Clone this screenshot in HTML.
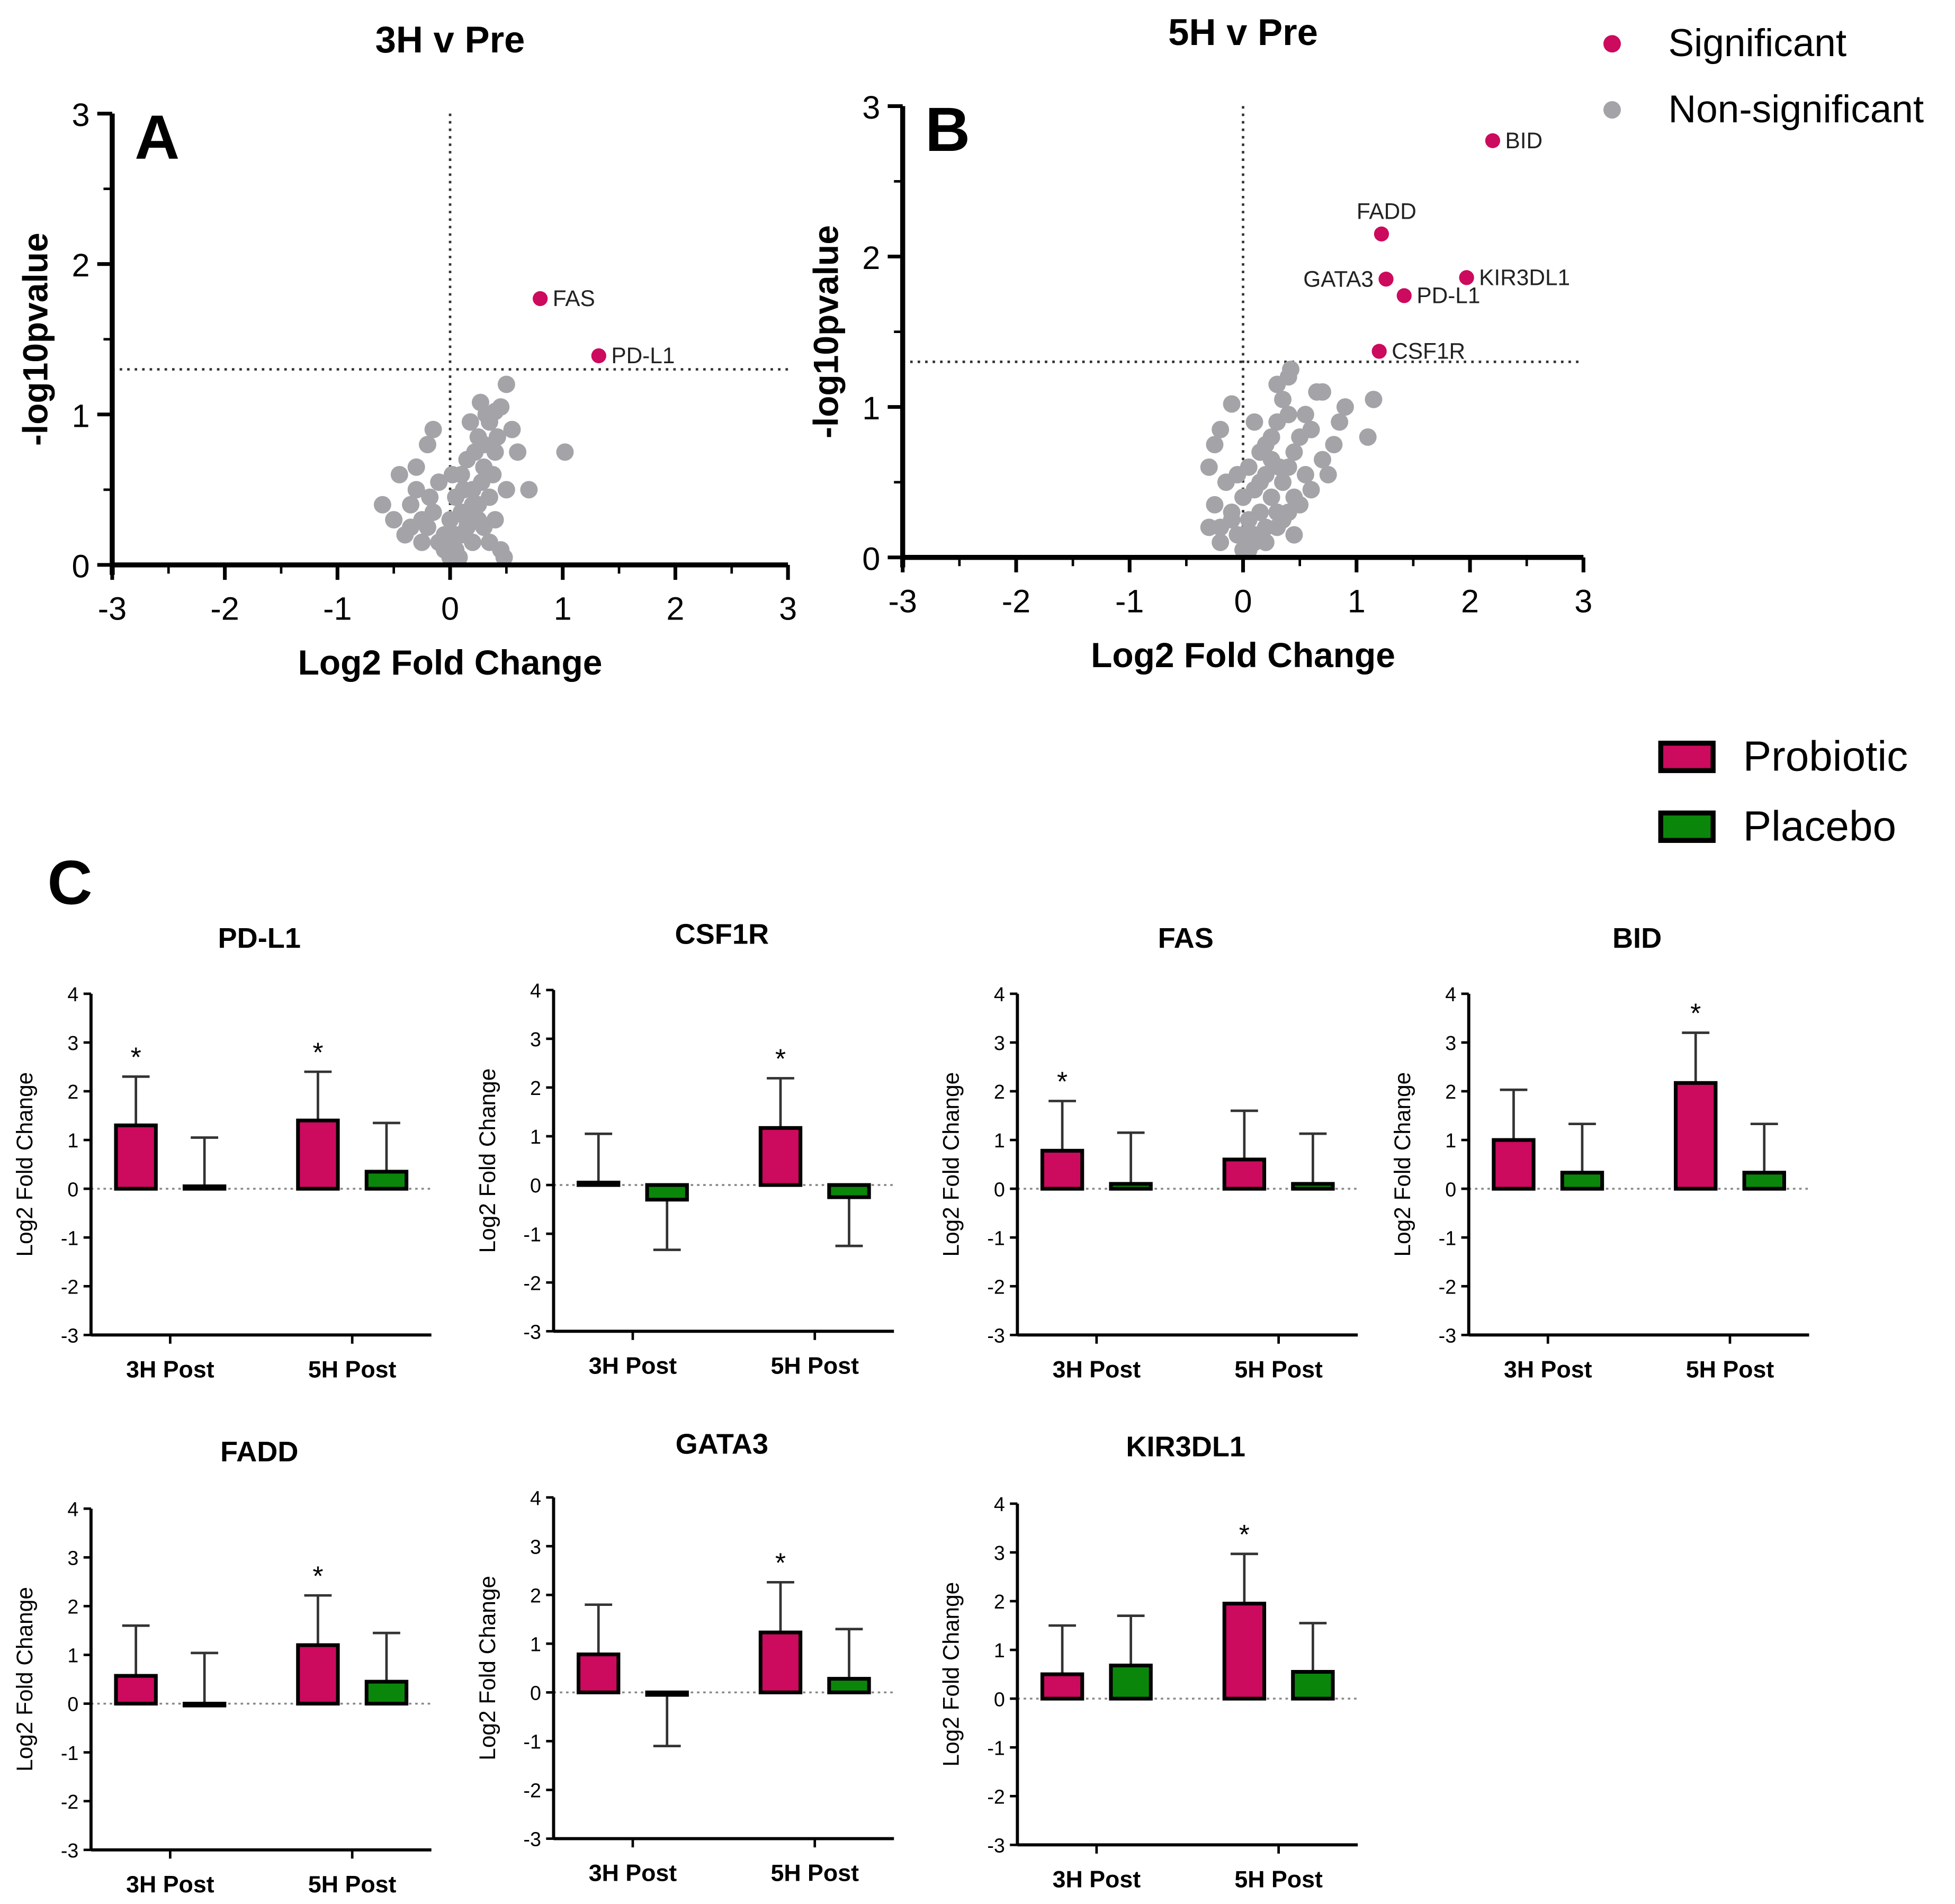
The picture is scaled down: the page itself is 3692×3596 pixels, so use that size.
<!DOCTYPE html>
<html><head><meta charset="utf-8"><style>
html,body{margin:0;padding:0;background:#fff}
svg{display:block}
text{font-family:"Liberation Sans",Arial,sans-serif}
</style></head><body>
<svg id="fig" xmlns="http://www.w3.org/2000/svg" width="3692" height="3596" viewBox="0 0 1568 1527">
<rect width="1568" height="1527" fill="#fff"/>
<g id="root"></g>
</svg>
<script>
// ---- Volcano data ----
const sigA_names=["FAS","PD-L1"];
const sigA_x=[0.8,1.32];
const sigA_y=[1.77,1.39];
const sigB_names=["BID","FADD","GATA3","KIR3DL1","PD-L1","CSF1R"];
const sigB_x=[2.2,1.22,1.26,1.97,1.42,1.2];
const sigB_y=[2.77,2.15,1.85,1.86,1.74,1.37];
const grayA_x=[-0.6,-0.5,-0.45,-0.4,-0.35,-0.3,-0.25,-0.2,-0.2,-0.15,-0.1,-0.1,-0.05,0,0,0.05,0.05,0.1,0.1,0.15,0.15,0.2,0.2,0.25,0.25,0.3,0.3,0.35,0.35,0.4,0.4,0.45,0.45,0.5,0.5,0.55,0.6,0.7,1.02,-0.3,-0.15,0.0,0.1,0.2,0.28,0.38,0.15,0.25,0.32,0.42,-0.05,0.05,-0.25,-0.35,0.12,0.22,0.3,0.18,0.08,0.48,0.35,0.27,0.4,-0.18,0.02];
const grayA_y=[0.4,0.3,0.6,0.2,0.4,0.5,0.3,0.25,0.8,0.35,0.15,0.55,0.2,0.05,0.3,0.1,0.45,0.2,0.6,0.3,0.7,0.15,0.5,0.4,0.85,0.25,0.65,0.45,0.95,0.3,0.75,0.1,1.05,0.5,1.2,0.9,0.75,0.5,0.75,0.65,0.9,0.15,0.35,0.4,0.55,0.6,0.25,0.3,1.0,0.85,0.1,0.2,0.15,0.25,0.5,0.75,0.8,0.95,0.05,0.05,0.15,1.08,1.02,0.45,0.6];
const grayB_x=[-0.3,-0.25,-0.2,-0.2,-0.15,-0.1,-0.1,-0.05,0,0,0.05,0.05,0.1,0.1,0.15,0.15,0.2,0.2,0.25,0.25,0.3,0.3,0.35,0.35,0.4,0.4,0.45,0.45,0.5,0.55,0.6,0.65,0.7,0.8,0.85,0.9,1.1,1.15,-0.3,-0.2,-0.1,0,0.1,0.2,0.3,0.4,0.5,0.6,0.2,0.3,0.4,0.05,0.15,0.25,-0.05,0.35,0.45,0.55,0.7,0.75,-0.25,0.1,0.32,0.42];
const grayB_y=[0.6,0.35,0.2,0.85,0.5,0.3,1.02,0.15,0.05,0.4,0.25,0.6,0.1,0.45,0.3,0.7,0.2,0.55,0.4,0.8,0.3,0.9,0.5,1.05,0.6,1.2,0.7,0.4,0.8,0.95,0.85,1.1,0.65,0.75,0.9,1.0,0.8,1.05,0.2,0.1,0.25,0.15,0.15,0.1,0.2,0.3,0.35,0.45,0.75,1.15,0.95,0.05,0.5,0.65,0.55,0.25,0.15,0.55,1.1,0.55,0.75,0.9,0.6,1.25];
// ---- Bar data ----
const genes=["PD-L1","CSF1R","FAS","BID","FADD","GATA3","KIR3DL1"];
const probMean=[[1.3,1.4],[0.05,1.17],[0.78,0.6],[1.0,2.17],[0.57,1.2],[0.78,1.23],[0.5,1.95]];
const probSD=[[1.0,1.0],[1.0,1.02],[1.02,1.0],[1.03,1.03],[1.03,1.02],[1.02,1.03],[1.0,1.02]];
const placMean=[[0.05,0.35],[-0.3,-0.25],[0.1,0.1],[0.33,0.33],[-0.03,0.45],[-0.05,0.28],[0.68,0.55]];
const placSD=[[1.0,1.0],[1.03,1.0],[1.05,1.03],[1.0,1.0],[1.07,1.0],[1.05,1.02],[1.02,1.0]];
const placErrDir=[[1,1],[-1,-1],[1,1],[1,1],[1,1],[-1,1],[1,1]];
const stars=[[1,1],[0,1],[1,0],[0,1],[0,1],[0,1],[0,1]];
const yTicks=[4,3,2,1,0,-1,-2,-3];
const volTicks=[-3,-2,-1,0,1,2,3];
const volYTicks=[0,1,2,3];

const NS="http://www.w3.org/2000/svg";
const root=document.getElementById('root');
function el(tag,attrs,parent,txt){const e=document.createElementNS(NS,tag);for(const k in attrs)e.setAttribute(k,attrs[k]);if(txt!==undefined)e.textContent=txt;(parent||root).appendChild(e);return e;}
const PINK="#cc0a5e",GREEN="#0a870a",GRAY="#a3a3a8";

function volcano(o){
  const g=el('g',{});
  
  
  const sx=v=>o.x0+(v+3)/6*(o.x1-o.x0);
  const sy=v=>o.y0-v/3*(o.y0-o.y1);
  let l=el('line',{x1:sx(0),x2:sx(0),y1:o.y1,y2:o.y0,stroke:"#333","stroke-width":2,"stroke-dasharray":"2,4"},g);
  
  l=el('line',{x1:o.x0,x2:o.x1,y1:sy(1.3),y2:sy(1.3),stroke:"#333","stroke-width":2,"stroke-dasharray":"2,4"},g);
  
  for(let i=0;i<o.gx.length;i++){const c=el('circle',{cx:sx(o.gx[i]),cy:sy(o.gy[i]),r:7,fill:GRAY},g);
    }
  for(let i=0;i<o.sx.length;i++){const c=el('circle',{cx:sx(o.sx[i]),cy:sy(o.sy[i]),r:6,fill:PINK},g);
    
    const lab=o.names[i];const left=(lab==="GATA3");
    const t=el('text',{x:left?sx(o.sx[i])-10:sx(o.sx[i])+10,y:sy(o.sy[i])+(lab==="FADD"?-12:6),"font-size":18,fill:"#222","text-anchor":left?"end":(lab==="FADD"?"middle":"start")},g,lab);
    if(lab==="FADD")t.setAttribute('x',sx(o.sx[i])+4);
    }
  el('line',{x1:o.x0,x2:o.x1,y1:o.y0,y2:o.y0,stroke:"#000","stroke-width":4},g);
  el('line',{x1:o.x0,x2:o.x0,y1:o.y1,y2:o.y0+8,stroke:"#000","stroke-width":4},g);
  volTicks.forEach(v=>{el('line',{x1:sx(v),x2:sx(v),y1:o.y0,y2:o.y0+12,stroke:"#000","stroke-width":3},g);
    if(v<3)el('line',{x1:sx(v+0.5),x2:sx(v+0.5),y1:o.y0,y2:o.y0+7,stroke:"#000","stroke-width":2},g);
    const t=el('text',{x:sx(v),y:o.y0+44,"font-size":26,"text-anchor":"middle"},g,v);
    });
  volYTicks.forEach(v=>{el('line',{x1:o.x0-12,x2:o.x0,y1:sy(v),y2:sy(v),stroke:"#000","stroke-width":3},g);
    if(v<3)el('line',{x1:o.x0-7,x2:o.x0,y1:sy(v+0.5),y2:sy(v+0.5),stroke:"#000","stroke-width":2},g);
    const t=el('text',{x:o.x0-18,y:sy(v)+10,"font-size":26,"text-anchor":"end"},g,v);
    });
  let t=el('text',{x:(o.x0+o.x1)/2,y:o.y0+88,"font-size":28,"font-weight":"bold","text-anchor":"middle"},g,"Log2 Fold Change");
  
  t=el('text',{x:0,y:0,"font-size":28,"font-weight":"bold","text-anchor":"middle",transform:`translate(${o.x0-52},${(o.y0+o.y1)/2}) rotate(-90)`},g,"-log10pvalue");
  
  t=el('text',{x:(o.x0+o.x1)/2,y:o.ty,"font-size":30,"font-weight":"bold","text-anchor":"middle"},g,o.title);
  
  t=el('text',{x:o.x0+18,y:o.y1+36,"font-size":50,"font-weight":"bold","font-family":"Liberation Serif, serif"},g,o.letter);
  
}
volcano({name:'volcano-3h',x0:90,x1:632,y0:453,y1:91,ty:42,title:"3H v Pre",letter:"A",gx:grayA_x,gy:grayA_y,sx:sigA_x,sy:sigA_y,names:sigA_names});
volcano({name:'volcano-5h',x0:724,x1:1270,y0:447,y1:85,ty:36,title:"5H v Pre",letter:"B",gx:grayB_x,gy:grayB_y,sx:sigB_x,sy:sigB_y,names:sigB_names});

let lg=el('g',{});
el('circle',{cx:1293,cy:35,r:7,fill:PINK},lg);
el('text',{x:1338,y:45,"font-size":31},lg,"Significant");
el('circle',{cx:1293,cy:88,r:7,fill:GRAY},lg);
el('text',{x:1338,y:98,"font-size":31},lg,"Non-significant");
lg=el('g',{});
el('rect',{x:1332,y:596,width:42,height:22,fill:PINK,stroke:"#000","stroke-width":4},lg);
el('text',{x:1398,y:618,"font-size":34},lg,"Probiotic");
el('rect',{x:1332,y:652,width:42,height:22,fill:GREEN,stroke:"#000","stroke-width":4},lg);
el('text',{x:1398,y:674,"font-size":34},lg,"Placebo");
let tc=el('text',{x:38,y:725,"font-size":50,"font-weight":"bold","font-family":"Liberation Serif, serif"},root,"C");


const panels=[[73,797,760],[444,794,757],[816,797,760],[1178,797,760],[73,1210,1172],[444,1201,1166],[816,1206,1168]];
function barChart(i){
  const [ax,top,ty]=panels[i];
  const g=el('g',{});
  
  
  const unit=39.1;
  const sy=v=>top+(4-v)*unit;
  const W=273;
  el('line',{x1:ax,x2:ax+W,y1:sy(0),y2:sy(0),stroke:"#888","stroke-width":1.5,"stroke-dasharray":"2,3"},g);
  const centers=[[36,91],[182,237]];
  for(let c=0;c<2;c++){
    [[probMean,probSD,PINK,0],[placMean,placSD,GREEN,1]].forEach(([M,S,col,k])=>{
      const m=M[i][c],s=S[i][c],cx=ax+centers[c][k];
      const dir=k?placErrDir[i][c]:(m>=0?1:-1);
      const e=m+dir*s;
      el('line',{x1:cx,x2:cx,y1:sy(m),y2:sy(e),stroke:"#333","stroke-width":2},g);
      el('line',{x1:cx-11,x2:cx+11,y1:sy(e),y2:sy(e),stroke:"#333","stroke-width":2},g);
      const r=el('rect',{x:cx-16,y:Math.min(sy(m),sy(0)),width:32,height:Math.max(1.5,Math.abs(sy(m)-sy(0))),fill:col,stroke:"#000","stroke-width":3},g);
      
      
      if(k===0&&stars[i][c]){const t=el('text',{x:cx,y:sy(e)-8,"font-size":22,"text-anchor":"middle"},g,"*");
        }
    });
  }
  el('line',{x1:ax,x2:ax+W,y1:sy(-3),y2:sy(-3),stroke:"#000","stroke-width":2.5},g);
  el('line',{x1:ax,x2:ax,y1:sy(4),y2:sy(-3),stroke:"#000","stroke-width":2.5},g);
  yTicks.forEach(v=>{el('line',{x1:ax-6,x2:ax,y1:sy(v),y2:sy(v),stroke:"#000","stroke-width":2},g);
    const t=el('text',{x:ax-10,y:sy(v)+6,"font-size":16,"text-anchor":"end"},g,v);
    });
  ["3H Post","5H Post"].forEach((lab,c)=>{const cx=ax+(centers[c][0]+centers[c][1])/2;
    el('line',{x1:cx,x2:cx,y1:sy(-3),y2:sy(-3)+7,stroke:"#000","stroke-width":2},g);
    const t=el('text',{x:cx,y:sy(-3)+34,"font-size":19,"font-weight":"bold","text-anchor":"middle"},g,lab);
    });
  let t=el('text',{x:0,y:0,"font-size":18,"text-anchor":"middle",transform:`translate(${ax-47},${sy(0.5)}) rotate(-90)`},g,"Log2 Fold Change");
  
  t=el('text',{x:ax+135,y:ty,"font-size":23,"font-weight":"bold","text-anchor":"middle"},g,genes[i]);
  
}
for(let i=0;i<genes.length;i++)barChart(i);
</script>
</body></html>
